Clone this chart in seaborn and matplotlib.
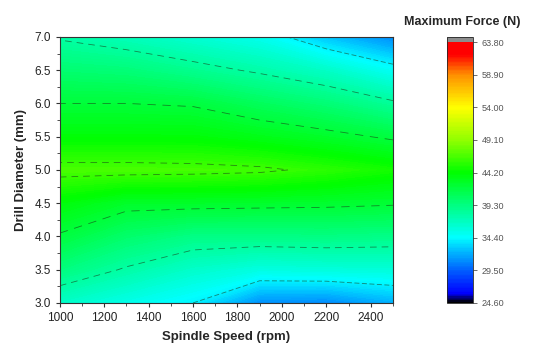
import numpy as np
import matplotlib
matplotlib.use('Agg')
import matplotlib.pyplot as plt
import seaborn as sns
from matplotlib.colors import LinearSegmentedColormap

sns.set_style('white')
plt.rcParams['font.family'] = ['Liberation Sans', 'DejaVu Sans']

# spindle speed (rpm) columns and drill diameter (mm) rows
speeds = [1000, 1300, 1600, 1900, 2200, 2500]
diameters = [3.0, 3.5, 4.0, 4.5, 5.0, 5.5, 6.0, 6.5, 7.0]

# maximum force (N), one row per diameter
force = [
    [36.5, 35.2, 34.0, 31.0, 30.8, 32.0],
    [39.4, 37.8, 36.4, 35.5, 35.7, 35.8],
    [41.8, 40.1, 39.1, 39.1, 39.2, 39.0],
    [43.8, 42.6, 42.6, 42.5, 42.4, 42.2],
    [46.6, 46.6, 46.5, 46.3, 45.6, 44.8],
    [43.9, 43.9, 43.9, 43.3, 42.6, 41.7],
    [42.0, 42.0, 41.8, 40.7, 39.7, 38.3],
    [39.9, 39.6, 38.7, 37.7, 36.5, 34.7],
    [37.8, 37.0, 36.0, 35.0, 32.6, 30.8],
]

line_levels = [34.0, 38.0, 42.0, 46.0]
cbar_ticks = [24.6, 29.5, 34.4, 39.3, 44.2, 49.1, 54.0, 58.9, 63.8]

vmin, vmax = 24.6, 63.8
stops = [(24.6, 'black'), (26.0, '#0000ff'), (29.5, '#0060ff'), (34.4, '#00ffff'),
         (39.3, '#00ff80'), (44.2, '#00ff00'), (49.1, '#90ff00'), (54.0, '#ffff00'),
         (58.9, '#ff9000'), (62.0, '#ff0000'), (63.8, '#ff0000')]
cmap = LinearSegmentedColormap.from_list(
    'force', [((v - vmin) / (vmax - vmin), c) for v, c in stops])
cmap.set_over('#8c8c8c')

X, Y = np.meshgrid(speeds, diameters)
Z = np.array(force)

fig = plt.figure(figsize=(5.39, 3.45), dpi=100)
ax = fig.add_axes([0.111, 0.122, 0.618, 0.771])
cax = fig.add_axes([0.829, 0.122, 0.048, 0.771])

levels = np.linspace(vmin, vmax, 197)
cs = ax.contourf(X, Y, Z, levels=levels, cmap=cmap, extend='max')
ax.contour(X, Y, Z, levels=line_levels, colors='#1a3a1a', linewidths=0.6, alpha=0.6,
           linestyles=[(0, (6, 3)), (0, (8, 6)), (0, (10, 8)), (0, (8, 6))])

ax.set_xlim(1000, 2500)
ax.set_ylim(3.0, 7.0)
ax.set_xticks(range(1000, 2401, 200))
ax.set_xticks(range(1000, 2501, 100), minor=True)
ax.set_yticks(np.arange(3.0, 7.01, 0.5))
ax.set_yticks(np.arange(3.0, 7.01, 0.25), minor=True)
ax.yaxis.set_major_formatter(matplotlib.ticker.FormatStrFormatter('%.1f'))
ax.tick_params(which='both', direction='out', color='#333333', labelsize=8.5, labelcolor='#222222')
ax.tick_params(which='major', length=3, width=0.8)
ax.tick_params(which='minor', length=2, width=0.6)
ax.tick_params(bottom=True, left=True, which='both')
for s in ax.spines.values():
    s.set_color('#333333')
    s.set_linewidth(0.8)
ax.set_xlabel('Spindle Speed (rpm)', fontsize=9.5, fontweight='bold', labelpad=5)
ax.set_ylabel('Drill Diameter (mm)', fontsize=9.5, fontweight='bold', labelpad=5)

cb = fig.colorbar(cs, cax=cax, ticks=cbar_ticks, extendrect=True, extendfrac=0.02)
cb.ax.set_yticklabels(['%.2f' % t for t in cbar_ticks])
cb.ax.tick_params(labelsize=6.5, labelcolor='#555555', length=3, width=0.6, color='#555555')
cb.outline.set_linewidth(0.6)
fig.text(0.857, 0.936, 'Maximum Force (N)', ha='center', va='center', fontsize=9, fontweight='bold')

fig.savefig('out.png', dpi=100)
